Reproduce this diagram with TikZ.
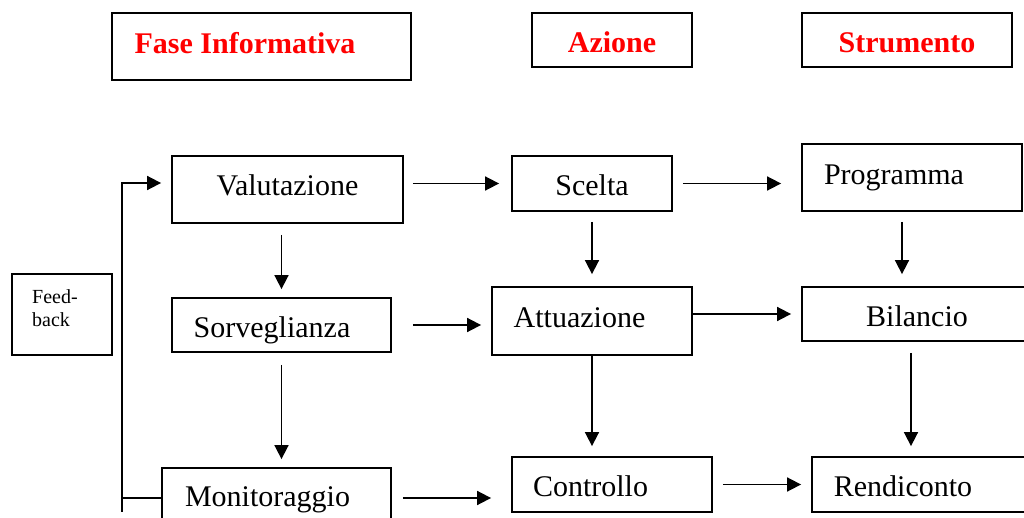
\documentclass[tikz,border=0pt]{standalone}
\usepackage{fontspec}
\setmainfont{Liberation Serif}
\usetikzlibrary{positioning,arrows.meta}

\begin{document}
\begin{tikzpicture}[
  x=0.5pt, y=-0.5pt,
  font=\fontsize{15}{18}\selectfont,
  box/.style={draw, line width=0.9pt, inner sep=0pt},
  headtext/.style={font=\fontsize{15}{18}\selectfont\bfseries, text=red},
  arrow/.style={-{Triangle[length=7pt,width=7pt]}, line width=0.85pt}
]
\clip (0,0) rectangle (1024,518);

% Header row
\node[box, minimum width=149.5pt, minimum height=33.5pt,
  label={[headtext, xshift=-8.25pt, yshift=1.75pt]center:Fase Informativa}] (fase) at (261.5,46.5) {};
\node[box, minimum width=80pt, minimum height=27pt,
  label={[headtext, yshift=-1.25pt]center:Azione}] (azione) at (612,40) {};
\node[box, minimum width=105pt, minimum height=27pt,
  label={[headtext, yshift=-1.25pt]center:Strumento}] (strum) at (907,40) {};

% First row
\node[box, minimum width=115.5pt, minimum height=33.5pt,
  label={[yshift=2pt]center:Valutazione}] (valut) at (287.5,189.5) {};
\node[box, minimum width=80pt, minimum height=27.5pt,
  label={[yshift=-0.75pt]center:Scelta}] (scelta) at (592,183.5) {};
\node[box, minimum width=110pt, minimum height=33.5pt,
  label={[xshift=-9pt]center:Programma}] (prog) at (912,177.5) {};

% Second row
\node[box, minimum width=50pt, minimum height=40.5pt,
  label={[anchor=west, xshift=7pt, yshift=3pt, align=left, font=\fontsize{10}{11.5}\selectfont]west:Feed-\\back}] (feed) at (62,314.5) {};
\node[box, minimum width=109.5pt, minimum height=27pt,
  label={[xshift=-4.75pt, yshift=-2.5pt]center:Sorveglianza}] (sorv) at (281.5,325) {};
\node[box, minimum width=100pt, minimum height=34pt,
  label={[xshift=-6.25pt, yshift=1.5pt]center:Attuazione}] (attu) at (592,321) {};
\node[box, minimum width=115pt, minimum height=27pt,
  label={[yshift=-1pt]center:Bilancio}] (bil) at (917,314) {};

% Third row
\node[box, minimum width=114.5pt, minimum height=30pt,
  label={[xshift=-4.5pt, yshift=-1pt]center:Monitoraggio}] (mon) at (276.5,498) {};
\node[box, minimum width=100pt, minimum height=27.5pt,
  label={[xshift=-10.75pt, yshift=-0.75pt]center:Controllo}] (ctrl) at (612,484.5) {};
\node[box, minimum width=109pt, minimum height=27.5pt,
  label={[xshift=-9pt, yshift=-0.75pt]center:Rendiconto}] (rend) at (921,484.5) {};

% Horizontal arrows
\draw[arrow, shorten <=4.5pt, shorten >=6pt] (valut.east |- scelta.west) -- (scelta.west);
\draw[arrow, shorten <=5pt, shorten >=10pt] (scelta.east) -- (scelta.east -| prog.west);
\draw[arrow, shorten <=10.5pt, shorten >=5pt] (sorv.east) -- (sorv.east -| attu.west);
\draw[arrow, shorten >=5pt] (attu.east |- bil.west) -- (bil.west);
\draw[arrow, shorten <=5.5pt, shorten >=10pt] (mon.east) -- (mon.east -| ctrl.west);
\draw[arrow, shorten <=5pt, shorten >=5pt] (ctrl.east) -- (rend.west);

% Vertical arrows
\draw[arrow, shorten <=5.5pt, shorten >=4pt] (sorv.north |- valut.south) -- (sorv.north);
\draw[arrow, shorten <=5pt, shorten >=6pt] (scelta.south) -- (attu.north);
\draw[arrow, shorten <=5pt, shorten >=6pt] ([xshift=-5pt]prog.south) -- ([xshift=-5pt]prog.south |- bil.north);
\draw[arrow, shorten <=6pt, shorten >=4pt] (sorv.south) -- (sorv.south |- mon.north);
\draw[arrow, shorten >=5pt] (attu.south) -- (attu.south |- ctrl.north);
\draw[arrow, shorten <=5.5pt, shorten >=5pt] ([xshift=-3pt]bil.south) -- ([xshift=-3pt]bil.south |- rend.north);

% Feed-back loop
\coordinate (fbbot) at (122,512);
\draw[line width=0.85pt] (mon.west) -- (mon.west -| fbbot);
\draw[arrow, shorten >=5pt] (fbbot) |- ([yshift=3.25pt]valut.west);

\end{tikzpicture}
\end{document}
